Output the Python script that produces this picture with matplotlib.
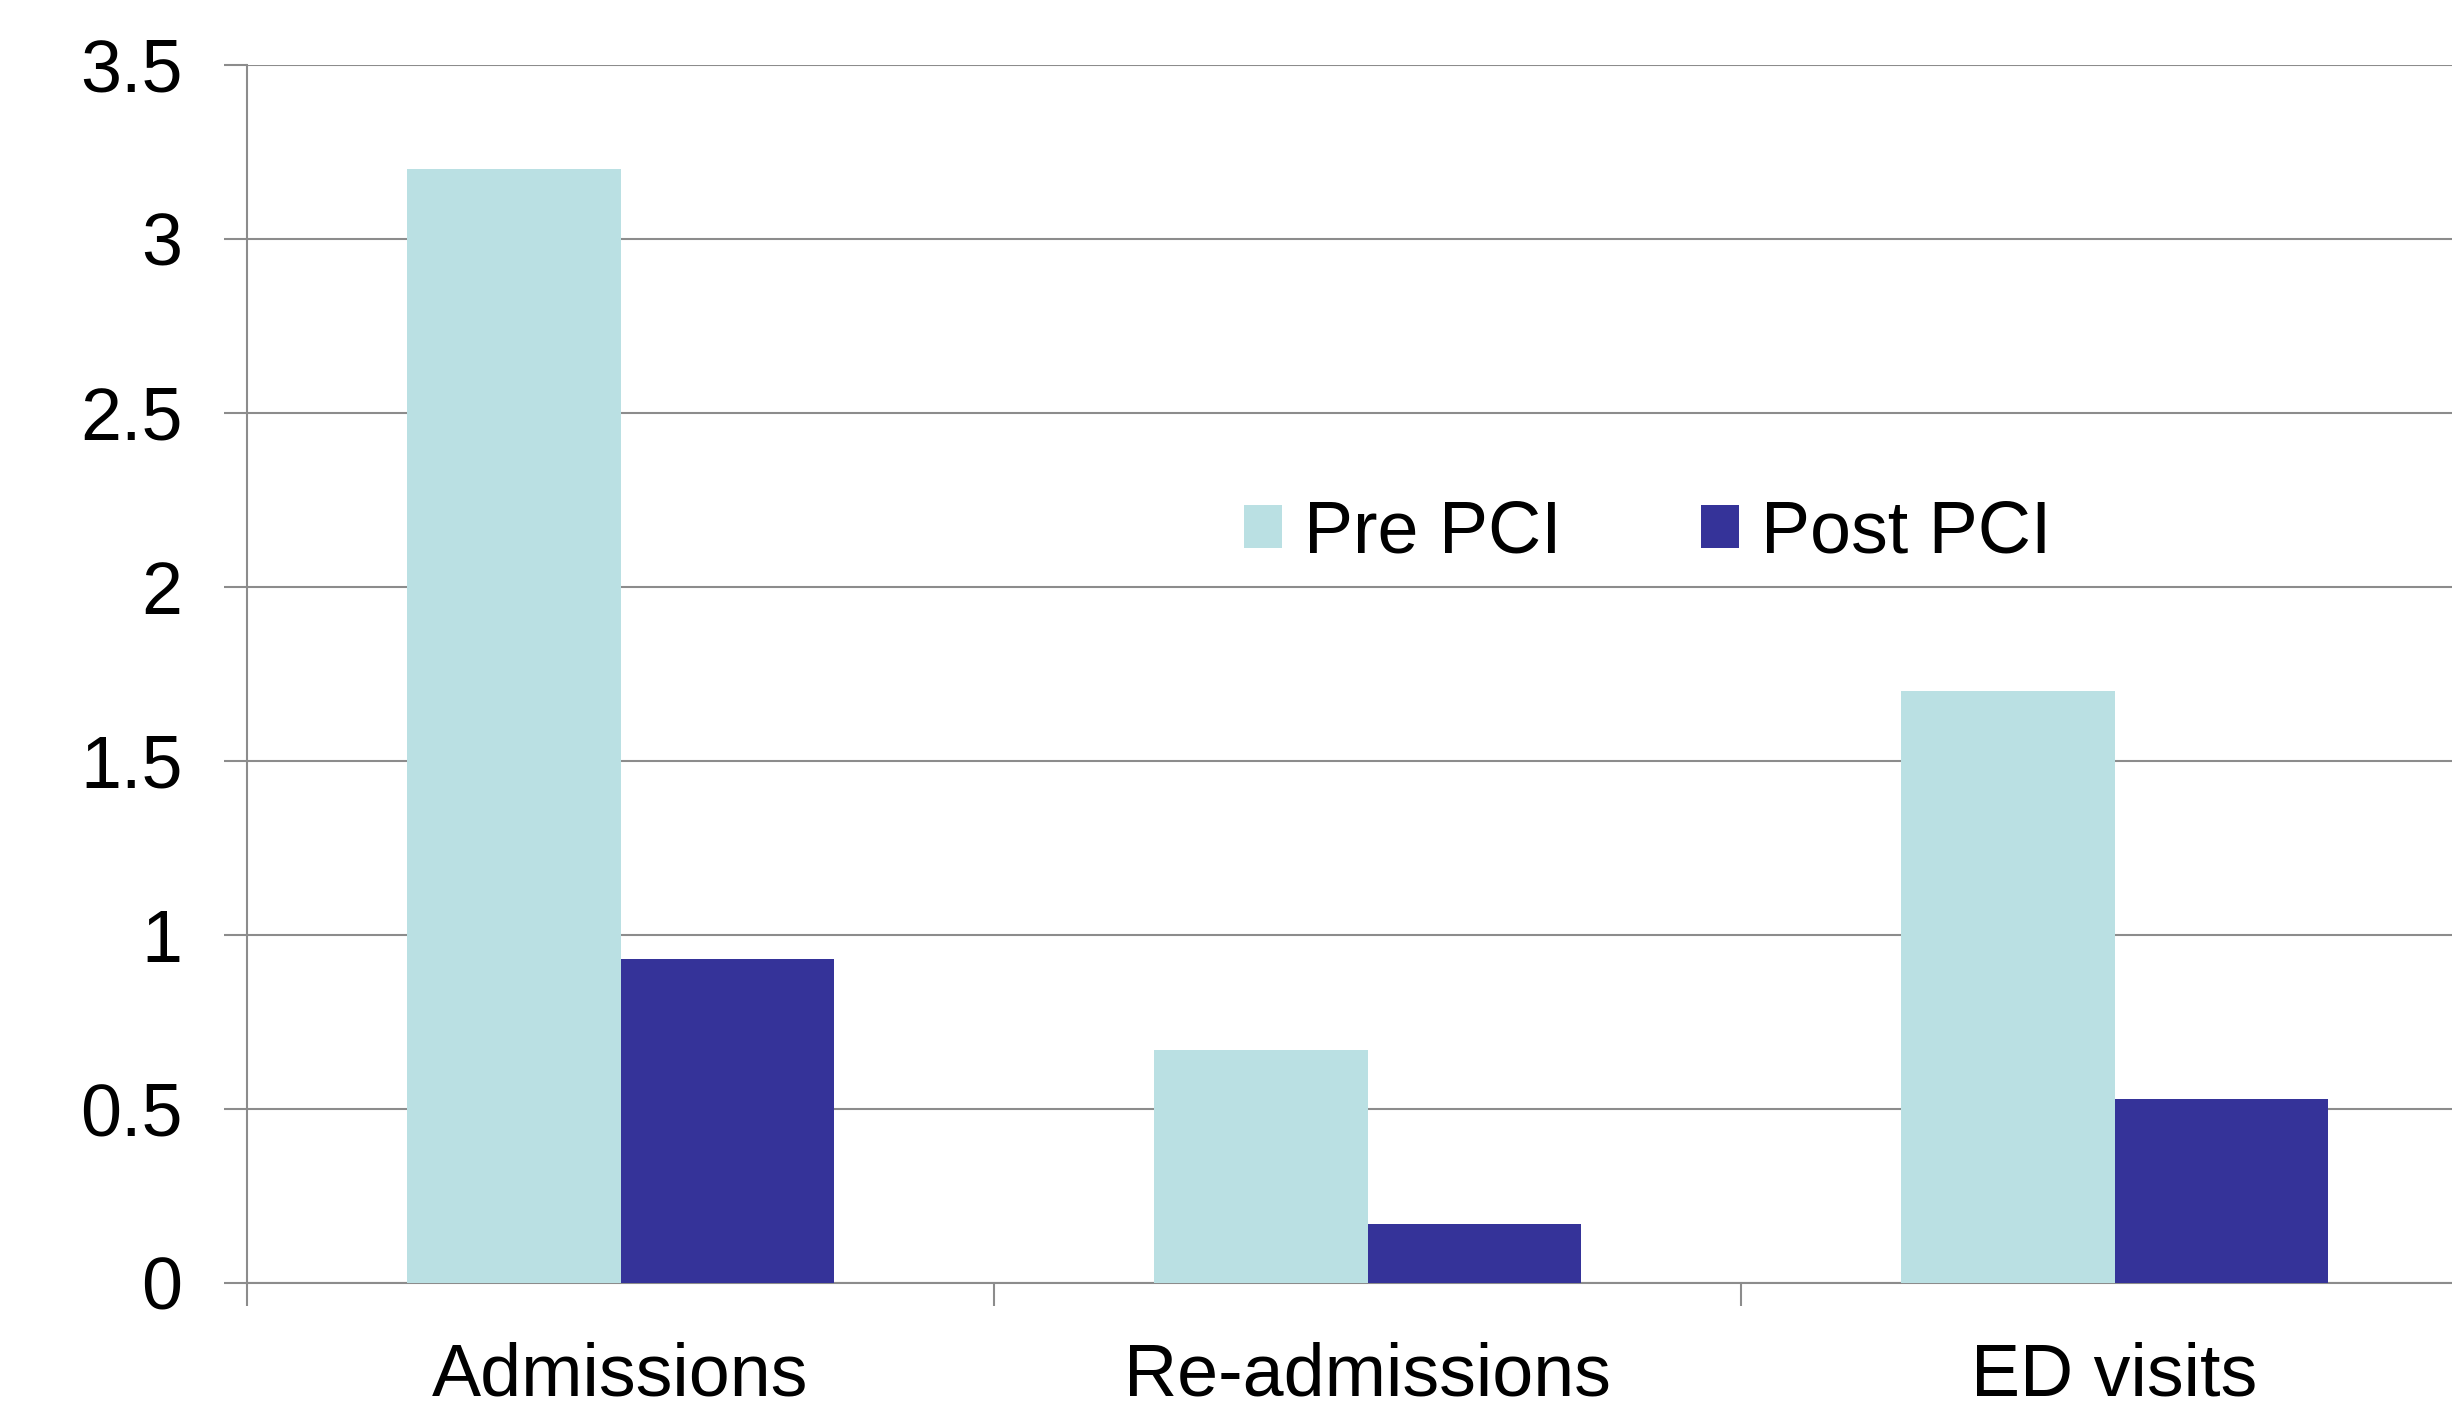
import numpy as np
import matplotlib.pyplot as plt
from matplotlib.ticker import FixedLocator

plt.rcParams['font.family'] = ['Liberation Sans', 'DejaVu Sans']

# mean events per patient, before and after PCI
categories = ['Admissions', 'Re-admissions', 'ED visits']
pre_pci = [3.2, 0.67, 1.7]
post_pci = [0.93, 0.17, 0.53]
yticks = [0, 0.5, 1, 1.5, 2, 2.5, 3, 3.5]
ytick_labels = ['0', '0.5', '1', '1.5', '2', '2.5', '3', '3.5']

pre_col = '#BAE0E3'
post_col = '#353399'
grid_col = '#8C8C8C'
fs = 53

fig = plt.figure(figsize=(24.52, 14.05), dpi=100)
# axes run a little past the right edge of the figure
ax = fig.add_axes([247/2452, 1 - 1283/1405, 2241/2452, (1283 - 65)/1405])

x = np.arange(len(categories))
w = 0.286
ax.bar(x - w/2, pre_pci, w, color=pre_col, label='Pre PCI', zorder=3)
ax.bar(x + w/2, post_pci, w, color=post_col, label='Post PCI', zorder=3)

ax.set_xlim(-0.5, len(categories) - 0.5)
ax.set_ylim(0, 3.5)
ax.set_yticks(yticks)
ax.set_yticklabels(ytick_labels)
ax.set_xticks(x)
ax.set_xticklabels(categories)
ax.xaxis.set_minor_locator(FixedLocator(np.arange(-0.5, len(categories), 1.0)))

ax.yaxis.grid(True, color=grid_col, linewidth=1.5, zorder=0)
ax.set_axisbelow(True)
for s in ['top', 'right']:
    ax.spines[s].set_visible(False)
for s in ['left', 'bottom']:
    ax.spines[s].set_color(grid_col)
    ax.spines[s].set_linewidth(1.5)

ax.tick_params(axis='y', length=16.5, width=1.5, color=grid_col,
               labelsize=fs, pad=30)
ax.tick_params(axis='x', which='major', length=0, labelsize=fs, pad=42)
ax.tick_params(axis='x', which='minor', length=16.5, width=1.5, color=grid_col)

ax.legend(ncol=2, frameon=False, fontsize=fs, loc='center left',
          bbox_to_anchor=(1244/2452, 1 - 533/1405), bbox_transform=fig.transFigure,
          borderpad=0, borderaxespad=0, handlelength=0.51, handleheight=0.51,
          handletextpad=0.3, columnspacing=1.9)

fig.savefig('out.png', dpi=100)
